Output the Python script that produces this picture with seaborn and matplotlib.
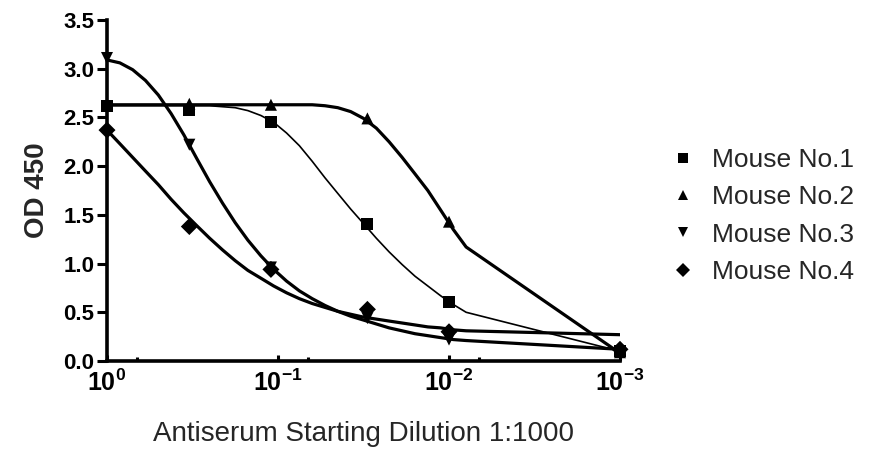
import matplotlib
matplotlib.use("Agg")
import matplotlib.pyplot as plt
import matplotlib.ticker as mticker
import numpy as np
import pandas as pd
import seaborn as sns

# ---------------- data ----------------
mice = ["Mouse No.1", "Mouse No.2", "Mouse No.3", "Mouse No.4"]
markers = ["s", "^", "v", "D"]

dilution = [1, 0.33, 0.11, 0.03, 0.01, 0.001]
od_m1 = [2.62, 2.58, 2.45, 1.41, 0.61, 0.10]
od_m2 = [2.63, 2.64, 2.63, 2.49, 1.43, 0.09]
od_m3 = [3.11, 2.22, 0.96, 0.44, 0.22, 0.10]
od_m4 = [2.37, 1.38, 0.94, 0.53, 0.30, 0.12]

# fitted curves at these dilutions
curve_dilution = [1, 0.841, 0.708, 0.596, 0.501, 0.422, 0.355, 0.299,
                  0.251, 0.211, 0.178, 0.150, 0.126, 0.106, 0.0891, 0.0750,
                  0.0631, 0.0531, 0.0447, 0.0376, 0.0316, 0.0266, 0.0224,
                  0.0188, 0.0158, 0.0133, 0.0112, 0.00944, 0.00794, 0.001]
fit_m1 = [2.62, 2.62, 2.62, 2.62, 2.62, 2.62, 2.62, 2.62,
          2.62, 2.61, 2.60, 2.57, 2.52, 2.45, 2.34, 2.21,
          2.05, 1.88, 1.72, 1.56, 1.41, 1.26, 1.12,
          0.99, 0.87, 0.77, 0.67, 0.58, 0.50, 0.10]
fit_m2 = [2.63, 2.63, 2.63, 2.63, 2.63, 2.63, 2.63, 2.63,
          2.63, 2.63, 2.63, 2.63, 2.63, 2.63, 2.63, 2.63,
          2.63, 2.62, 2.60, 2.56, 2.49, 2.39, 2.25,
          2.09, 1.92, 1.75, 1.55, 1.35, 1.17, 0.08]
fit_m3 = [3.09, 3.06, 2.99, 2.88, 2.73, 2.54, 2.32, 2.08,
          1.84, 1.62, 1.42, 1.24, 1.08, 0.94, 0.82, 0.72,
          0.64, 0.57, 0.51, 0.46, 0.42, 0.38, 0.34,
          0.31, 0.28, 0.26, 0.24, 0.22, 0.21, 0.12]
fit_m4 = [2.37, 2.23, 2.09, 1.95, 1.81, 1.66, 1.52, 1.39,
          1.26, 1.14, 1.03, 0.93, 0.85, 0.77, 0.70, 0.64,
          0.59, 0.55, 0.51, 0.48, 0.45, 0.43, 0.41,
          0.39, 0.37, 0.35, 0.34, 0.32, 0.31, 0.27]

x_ticks = [1, 0.1, 0.01, 0.001]
x_minor = [0.667, 0.0667, 0.00667]
y_ticks = [0.0, 0.5, 1.0, 1.5, 2.0, 2.5, 3.0, 3.5]

points = pd.DataFrame({
    "dilution": dilution * 4,
    "od": od_m1 + od_m2 + od_m3 + od_m4,
    "mouse": sum([[m] * len(dilution) for m in mice], []),
})
fits = pd.DataFrame({
    "dilution": curve_dilution * 4,
    "od": fit_m1 + fit_m2 + fit_m3 + fit_m4,
    "mouse": sum([[m] * len(curve_dilution) for m in mice], []),
})
line_widths = {"Mouse No.1": 1.2, "Mouse No.2": 2.3, "Mouse No.3": 2.3, "Mouse No.4": 2.3}

# ---------------- style ----------------
sns.set_style("white")
plt.rcParams["font.family"] = ["Liberation Sans", "DejaVu Sans"]
plt.rcParams["mathtext.fontset"] = "custom"
plt.rcParams["mathtext.rm"] = "Liberation Sans:bold"
plt.rcParams["mathtext.bf"] = "Liberation Sans:bold"
plt.rcParams["mathtext.default"] = "bf"

fig = plt.figure(figsize=(8.72, 4.51), dpi=100)
ax = fig.add_axes([107 / 872, 1 - 361 / 451, (620 - 107) / 872, (361 - 20) / 451])

for m in mice:
    sub = fits[fits["mouse"] == m]
    sns.lineplot(data=sub, x="dilution", y="od", ax=ax, color="black",
                 linewidth=line_widths[m], sort=False, legend=False,
                 estimator=None, solid_capstyle="round",
                 solid_joinstyle="round", zorder=2)

sns.scatterplot(data=points, x="dilution", y="od", style="mouse",
                markers=dict(zip(mice, markers)), style_order=mice,
                color="black", s=75, edgecolor="black", linewidth=0,
                ax=ax, clip_on=False, zorder=3)

ax.set_xscale("log")
ax.set_xlim(1, 0.001)
ax.set_ylim(0, 3.5)
ax.set_xticks(x_ticks)
ax.xaxis.set_major_formatter(mticker.FuncFormatter(
    lambda v, p: r"$10^{%d}$" % int(round(np.log10(v)))))
ax.xaxis.set_minor_locator(mticker.FixedLocator(x_minor))
ax.xaxis.set_minor_formatter(mticker.NullFormatter())
ax.set_yticks(y_ticks)
ax.set_yticklabels([f"{v:.1f}" for v in y_ticks], fontsize=16, fontweight="bold")

for s in ["top", "right"]:
    ax.spines[s].set_visible(False)
for s in ["left", "bottom"]:
    ax.spines[s].set_linewidth(2.6)
    ax.spines[s].set_color("black")

ax.tick_params(axis="y", which="major", direction="out", length=7, width=2.2,
               pad=2, colors="black", left=True)
ax.tick_params(axis="x", which="major", direction="in", length=4, width=2.2,
               pad=6, labelsize=18, colors="black", bottom=True)
ax.tick_params(axis="x", which="minor", direction="in", length=3, width=2.2,
               colors="black", bottom=True)

ax.set_xlabel("Antiserum Starting Dilution 1:1000", fontsize=20, labelpad=18)
ax.set_ylabel("OD 450", fontsize=20, fontweight="bold", labelpad=10)

handles, labels = ax.get_legend_handles_labels()
leg = ax.legend(handles, labels, loc="center left", frameon=False,
                bbox_to_anchor=(670 / 872, 1 - 216 / 451),
                bbox_transform=fig.transFigure, fontsize=19,
                handletextpad=0.6, labelspacing=0.5, markerscale=0.85,
                handlelength=1.0, borderaxespad=0, borderpad=0)

fig.savefig("out.png", dpi=100)
